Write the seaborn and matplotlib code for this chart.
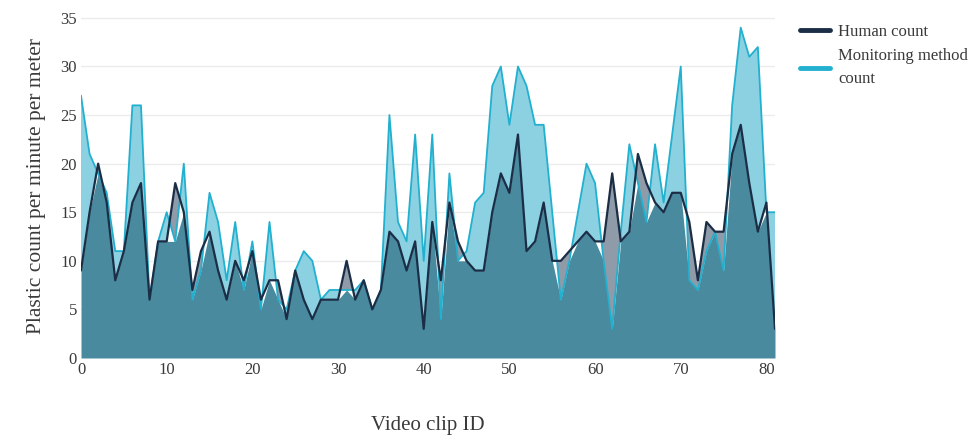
import numpy as np, pandas as pd
import matplotlib
matplotlib.use('Agg')
import matplotlib.pyplot as plt
import seaborn as sns
from matplotlib.lines import Line2D

# values, clip IDs 0..81
clip_id = list(range(82))
human_count = [9,15,20,16,8,11,16,18,6,12, 12,18,15,7,11,13,9,6,10,8,
               11,6,8,8,4,9,6,4,6,6, 6,10,6,8,5,7,13,12,9,12,
               3,14,8,16,12,10,9,9,15,19, 17,23,11,12,16,10,10,11,12,13,
               12,12,19,12,13,21,18,16,15,17, 17,14,8,14,13,13,21,24,18,13,
               16,3]
monitor_count = [27,21,19,17,11,11,26,26,6,12, 15,12,20,6,9,17,14,8,14,7,
                 12,5,14,6,5,9,11,10,6,7, 7,7,7,8,5,7,25,14,12,23,
                 10,23,4,19,10,11,16,17,28,30, 24,30,28,24,24,15,6,10,15,20,
                 18,10,3,13,22,18,14,22,16,23, 30,8,7,11,13,9,26,34,31,32,
                 15,15]
y_ticks = [0,5,10,15,20,25,30,35]
x_ticks = [0,10,20,30,40,50,60,70,80]

df = pd.DataFrame({'clip': clip_id, 'Human count': human_count,
                   'Monitoring method count': monitor_count})

HUMAN = '#1b2e46'; MON = '#22b0cf'; TXT = '#3a3a3a'
OVER = '#4a8a9f'; GREY = '#8f9ba8'; LCYAN = '#8bd1e2'

sns.set_theme(style='white')
plt.rcParams['font.family'] = ['Liberation Serif', 'DejaVu Serif']

fig = plt.figure(figsize=(9.73, 4.36), dpi=100)
ax = fig.add_axes([81/973, 1-358/436, (775-81)/973, (358-15)/436])

x = df['clip'].values; h = df['Human count'].values; m = df['Monitoring method count'].values
# overlap, human-only and monitoring-only bands
ax.fill_between(x, 0, np.minimum(h, m), color=OVER, linewidth=0)
ax.fill_between(x, m, h, where=h >= m, interpolate=True, color=GREY, linewidth=0)
ax.fill_between(x, h, m, where=m >= h, interpolate=True, color=LCYAN, linewidth=0)
sns.lineplot(data=df, x='clip', y='Monitoring method count', ax=ax, color=MON, linewidth=1.3)
sns.lineplot(data=df, x='clip', y='Human count', ax=ax, color=HUMAN, linewidth=1.6)

ax.set_xlim(0, 81); ax.set_ylim(0, 35.3)
ax.set_xticks(x_ticks); ax.set_yticks(y_ticks)
ax.yaxis.grid(True, color='#ececec', linewidth=1); ax.set_axisbelow(True)
for sp in ax.spines.values(): sp.set_visible(False)
ax.tick_params(axis='both', labelsize=12, colors=TXT, length=0, pad=3)
ax.set_xlabel('Video clip ID', fontsize=15, color=TXT, labelpad=27)
ax.set_ylabel('Plastic count per minute per meter', fontsize=15.5, color=TXT, labelpad=10)

handles = [Line2D([0], [0], color=HUMAN, lw=3.5), Line2D([0], [0], color=MON, lw=3.5)]
leg = fig.legend(handles, ['Human count', 'Monitoring method\ncount'], loc='upper left',
                 bbox_to_anchor=(785/973, 1-9/436), frameon=False, fontsize=12,
                 handlelength=1.8, handletextpad=0.5, labelspacing=0.5, labelcolor=TXT)
for t in leg.get_texts(): t.set_linespacing(1.55)

plt.savefig('out.png', dpi=100, facecolor='white')
